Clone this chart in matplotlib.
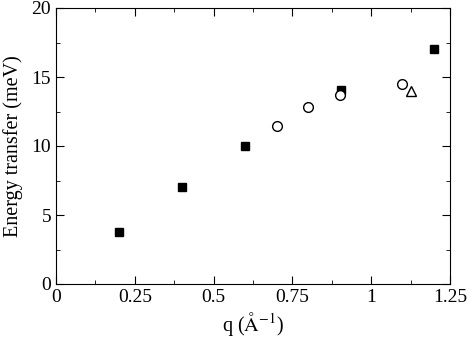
import numpy as np
from matplotlib import pyplot as plt
from matplotlib.ticker import MultipleLocator

plt.rcParams['font.family'] = ['Liberation Serif', 'DejaVu Serif']
plt.rcParams['mathtext.fontset'] = 'stix'

# filled squares
sq_q = [0.2, 0.4, 0.6, 0.905, 1.2]
sq_e = [3.75, 7.0, 10.0, 14.05, 17.0]
# open circles
ci_q = [0.70, 0.80, 0.90, 1.098]
ci_e = [11.47, 12.8, 13.7, 14.5]
# open triangle
tr_q = [1.125]
tr_e = [14.0]

fig = plt.figure(figsize=(4.69, 3.43), dpi=100)
ax = fig.add_axes([56/469, 1-284/343, (450-56)/469, (284-8)/343])

ax.plot(sq_q, sq_e, 's', color='black', ms=6, linestyle='none')
ax.plot(ci_q, ci_e, 'o', mfc='white', mec='black', mew=1.0, ms=7, linestyle='none')
ax.plot(tr_q, tr_e, '^', mfc='white', mec='black', mew=1.0, ms=7, linestyle='none')

ax.set_xlim(0, 1.25)
ax.set_ylim(0, 20)
ax.xaxis.set_minor_locator(MultipleLocator(0.125))
ax.yaxis.set_major_locator(MultipleLocator(5))
ax.yaxis.set_minor_locator(MultipleLocator(2.5))
ax.set_xticks([0, 0.25, 0.5, 0.75, 1, 1.25])
ax.set_xticklabels(['0', '0.25', '0.5', '0.75', '1', '1.25'])
ax.tick_params(which='both', direction='in', top=True, right=True, labelsize=14)
ax.tick_params(which='major', length=6)
ax.tick_params(which='minor', length=3)
ax.set_xlabel(r'q ($\mathrm{\AA}^{-1}$)', fontsize=14.5, labelpad=3)
ax.set_ylabel('Energy transfer (meV)', fontsize=14.5, labelpad=6)

fig.savefig('out.png', dpi=100)
